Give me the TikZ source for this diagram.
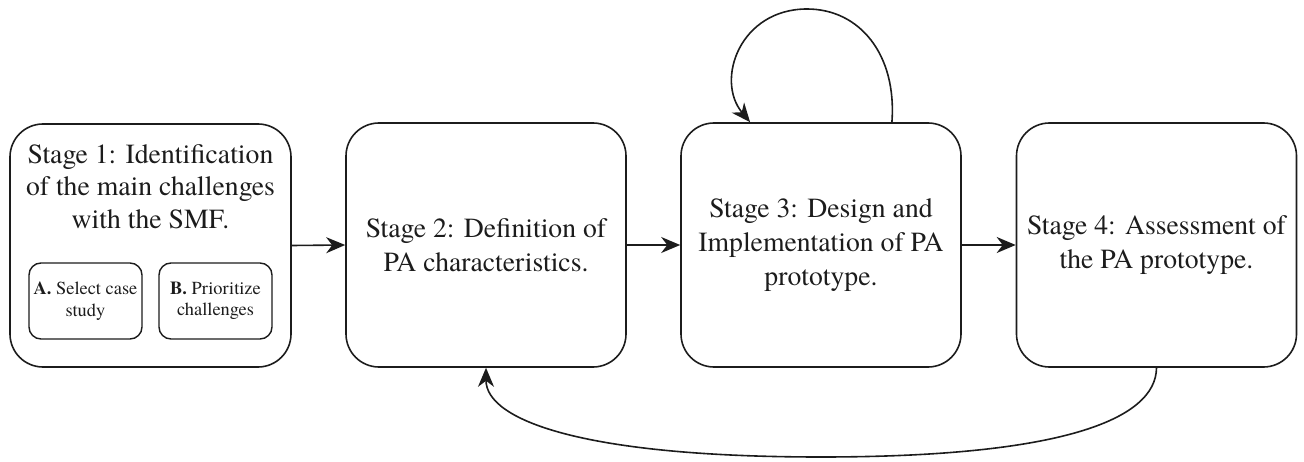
\documentclass[tikz,border=0pt]{standalone}
\usepackage{fontspec}
\setmainfont{TeX Gyre Termes}
\usetikzlibrary{arrows.meta}
\definecolor{ink}{HTML}{1C1C1C}
\begin{document}
\begin{tikzpicture}[x=1pt,y=-1pt,
  stagebox/.style={draw=ink, line width=1.6pt, rounded corners=33pt, minimum width=280pt, minimum height=244pt, inner sep=0pt, align=center, font=\fontsize{27.7}{34}\selectfont, text=ink},
  titletext/.style={inner sep=0pt, align=center, font=\fontsize{27.7}{32.5}\selectfont, text=ink},
  subbox/.style={draw=ink, line width=1.4pt, rounded corners=12pt, minimum width=113pt, minimum height=76pt, inner sep=0pt, align=center, font=\fontsize{18.4}{21.5}\selectfont, text=ink},
  conn/.style={draw=ink, line width=1.6pt, -{Stealth[length=19pt,width=16pt,inset=6pt]}}
]
\useasboundingbox (0,0) rectangle (1304,462);
\node[stagebox, minimum width=281pt, minimum height=243pt] (s1) at (150.5,245.5) {};
\node[titletext, anchor=north] (t1) at (150.5,144) {Stage 1: Identification\\of the main challenges\\with the SMF.};
\node[subbox] (a) at (85.5,301) {\textbf{A.} Select case\\study};
\node[subbox] (b) at (215.5,301) {\textbf{B.} Prioritize\\challenges};
\node[stagebox] (s2) at (486,245) {Stage 2: Definition of\\PA characteristics.};
\node[stagebox] (s3) at (821,245) {Stage 3: Design and\\Implementation of PA\\prototype.};
\node[stagebox] (s4) at (1156.5,245) {Stage 4: Assessment of\\the PA prototype.};
\draw[conn] (s1.east) -- (s2.west);
\draw[conn] (s2.east) -- (s3.west);
\draw[conn] (s3.east) -- (s4.west);
\draw[conn] (s3.60) .. controls (897,55) and (860,9) .. (807,9) .. controls (740,9) and (715,80) .. (s3.120);
\draw[conn] (s4.south) .. controls (1156,420) and (1060,457) .. (821,457) .. controls (582,457) and (486,420) .. (s2.south);
\end{tikzpicture}
\end{document}
